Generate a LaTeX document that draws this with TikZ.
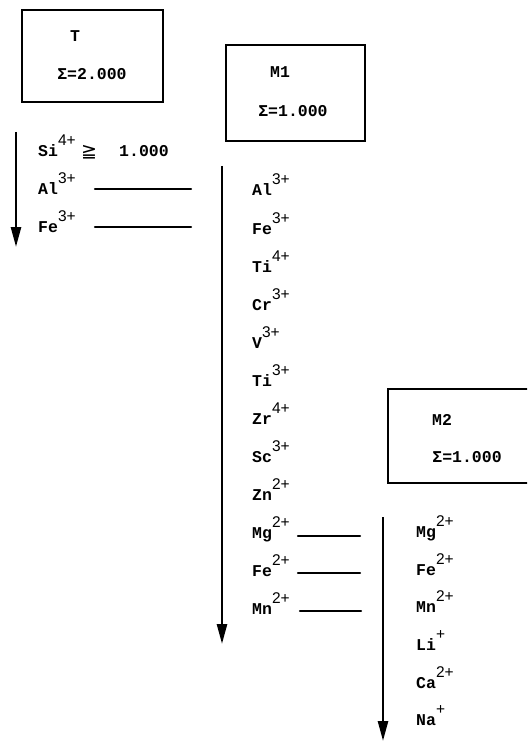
\documentclass[tikz,border=0pt]{standalone}
\usepackage{fontspec}
\usetikzlibrary{arrows.meta}
\newfontfamily\monof{Liberation Mono}
\newfontfamily\supff{Liberation Sans}
\newfontfamily\symf{DejaVu Sans}
\newcommand\ionlab[2]{#1\raisebox{11pt}{\supff\mdseries\fontsize{15.5}{15.5}\selectfont #2}}
\tikzset{
  frame/.style={draw, line width=2.8pt, inner sep=0pt},
  lab/.style={inner sep=0pt, font=\monof\bfseries\fontsize{16.5}{16.5}\selectfont},
  ion/.style={lab, anchor=base west},
  seq/.style={line width=2.6pt, -{Triangle[length=20pt,width=10pt]}},
  link/.style={line width=2.2pt, line cap=round}
}
\begin{document}
\begin{tikzpicture}[x=1pt,y=-1pt]
\clip (0,0) rectangle (527,743);
\fill[white] (0,0) rectangle (527,743);
% boxes
\node[frame, minimum width=141pt, minimum height=92pt] (Tbox) at (92.5,56) {};
\node[lab, anchor=base] (Tname) at (75,42) {T};
\node[lab, anchor=base] (Tsum) at (92,80) {Σ=2.000};
\node[frame, minimum width=139pt, minimum height=96pt] (Mbox) at (295.5,93) {};
\node[lab, anchor=base] (Mname) at (280,78) {M1};
\node[lab, anchor=base] (Msum) at (293,117) {Σ=1.000};
\node[frame, minimum width=152pt, minimum height=94pt] (Nbox) at (464,436) {};
\node[lab, anchor=base] (Nname) at (442,425) {M2};
\node[lab, anchor=base] (Nsum) at (467,462) {Σ=1.000};
% T sequence
\coordinate (Ttop) at (16,132); \coordinate (Tend) at (16,247);
\draw[seq] (Ttop) -- (Tend);
\node[ion] (tSi) at (38,157) {\ionlab{Si}{4+}};
\node[ion] (tge) at (81,158) {{\symf\mdseries\fontsize{19}{19}\selectfont ≧}};
\node[ion] (tval) at (119,157) {1.000};
\node[ion] (tAl) at (38,195) {\ionlab{Al}{3+}};
\node[ion] (tFe) at (38,233) {\ionlab{Fe}{3+}};
\coordinate (tAlA) at (95,189); \coordinate (tAlB) at (191,189);
\coordinate (tFeA) at (95,227); \coordinate (tFeB) at (191,227);
\draw[link] (tAlA) -- (tAlB);
\draw[link] (tFeA) -- (tFeB);
% M1 sequence
\coordinate (Mtop) at (222,166); \coordinate (Mend) at (222,644);
\draw[seq] (Mtop) -- (Mend);
\node[ion] (mAl) at (252,196) {\ionlab{Al}{3+}};
\node[ion] (mFe) at (252,234) {\ionlab{Fe}{3+}};
\node[ion] (mTiA) at (252,272) {\ionlab{Ti}{4+}};
\node[ion] (mCr) at (252,310) {\ionlab{Cr}{3+}};
\node[ion] (mV) at (252,348) {\ionlab{V}{3+}};
\node[ion] (mTiB) at (252,386) {\ionlab{Ti}{3+}};
\node[ion] (mZr) at (252,424) {\ionlab{Zr}{4+}};
\node[ion] (mSc) at (252,462) {\ionlab{Sc}{3+}};
\node[ion] (mZn) at (252,500) {\ionlab{Zn}{2+}};
\node[ion] (mMg) at (252,538) {\ionlab{Mg}{2+}};
\node[ion] (mFeB) at (252,576) {\ionlab{Fe}{2+}};
\node[ion] (mMn) at (252,614) {\ionlab{Mn}{2+}};
\coordinate (mMgA) at (298,536); \coordinate (mMgB) at (360,536);
\coordinate (mFeA) at (298,573); \coordinate (mFeBB) at (360,573);
\coordinate (mMnA) at (300,611); \coordinate (mMnB) at (361,611);
\draw[link] (mMgA) -- (mMgB);
\draw[link] (mFeA) -- (mFeBB);
\draw[link] (mMnA) -- (mMnB);
% M2 sequence
\coordinate (Ntop) at (383,517); \coordinate (Nend) at (383,741);
\draw[seq] (Ntop) -- (Nend);
\node[ion] (nMg) at (416,537) {\ionlab{Mg}{2+}};
\node[ion] (nFe) at (416,575) {\ionlab{Fe}{2+}};
\node[ion] (nMn) at (416,612) {\ionlab{Mn}{2+}};
\node[ion] (nLi) at (416,650) {\ionlab{Li}{+}};
\node[ion] (nCa) at (416,688) {\ionlab{Ca}{2+}};
\node[ion] (nNa) at (416,725) {\ionlab{Na}{+}};
\end{tikzpicture}
\end{document}
